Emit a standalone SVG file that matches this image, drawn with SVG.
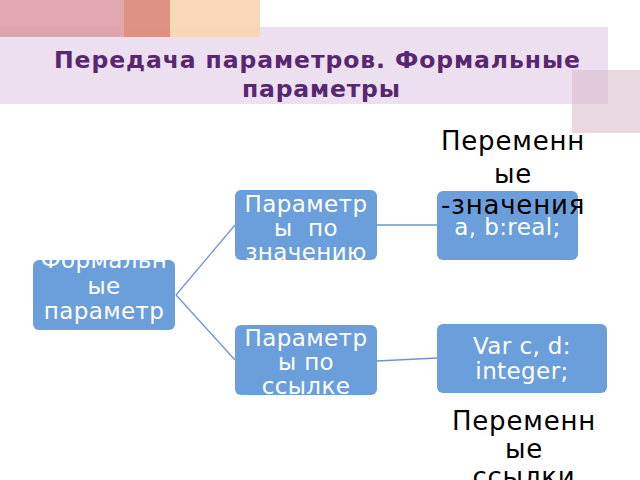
<svg xmlns="http://www.w3.org/2000/svg" width="640" height="480" viewBox="0 0 640 480">
<style>
.box{fill:#6a9fdc;}
.wt{font-family:"DejaVu Sans",sans-serif;font-size:23px;fill:#ffffff;text-anchor:middle;letter-spacing:0.4px;}
.bt{font-family:"DejaVu Sans",sans-serif;font-size:26px;fill:#000000;text-anchor:middle;letter-spacing:0.8px;}
.title{font-family:"DejaVu Sans",sans-serif;font-weight:bold;font-size:23.5px;fill:#57286f;text-anchor:middle;}
.conn{stroke:#7395c6;stroke-width:1.3;fill:none;}
</style>
<rect width="640" height="480" fill="#ffffff"/>
<g id="header">
<rect x="0" y="27" width="608" height="77" fill="#ebdff0"/>
<rect x="0" y="0" width="124" height="37" fill="#dc9ea6" opacity="0.9"/>
<rect x="124" y="0" width="46" height="37" fill="#dc8c7e" opacity="0.95"/>
<rect x="170" y="0" width="90" height="37" fill="#f8d6b4" opacity="0.95"/>
<rect x="572" y="70" width="68" height="63" fill="#d9b8c9" opacity="0.55"/>
<text class="title" x="317" y="68" textLength="526" lengthAdjust="spacing">Передача параметров. Формальные</text>
<text class="title" x="321" y="97" textLength="158" lengthAdjust="spacing">параметры</text>
</g>
<g id="connectors">
<line class="conn" x1="176" y1="295" x2="235" y2="225"/>
<line class="conn" x1="176" y1="295" x2="235" y2="360"/>
<line class="conn" x1="377" y1="225" x2="437" y2="225"/>
<line class="conn" x1="377" y1="361" x2="437" y2="358"/>
</g>
<g id="node-formal">
<rect class="box" x="33" y="260" width="142" height="70" rx="6"/>
<text class="wt" x="104" y="268">Формальн</text>
<text class="wt" x="104" y="294">ые</text>
<text class="wt" x="104" y="319">параметр</text>
</g>
<g id="node-byvalue">
<rect class="box" x="235" y="190" width="142" height="70" rx="6"/>
<text class="wt" x="306" y="212">Параметр</text>
<text class="wt" x="306" y="236" xml:space="preserve">ы  по</text>
<text class="wt" x="306" y="260">значению</text>
</g>
<g id="node-byref">
<rect class="box" x="235" y="325" width="142" height="70" rx="6"/>
<text class="wt" x="306" y="346">Параметр</text>
<text class="wt" x="306" y="370">ы по</text>
<text class="wt" x="306" y="394">ссылке</text>
</g>
<g id="node-real">
<rect class="box" x="437" y="191" width="141" height="69" rx="6"/>
<text class="wt" x="507.5" y="235">a, b:real;</text>
</g>
<g id="node-integer">
<rect class="box" x="437" y="324" width="170" height="69" rx="6"/>
<text class="wt" x="522" y="354">Var c, d:</text>
<text class="wt" x="522" y="379">integer;</text>
</g>
<g id="label-values">
<text class="bt" x="513" y="150">Переменн</text>
<text class="bt" x="513" y="183">ые</text>
<text class="bt" x="513" y="214">-значения</text>
</g>
<g id="label-refs">
<text class="bt" x="524" y="430">Переменн</text>
<text class="bt" x="524" y="458">ые</text>
<text class="bt" x="524" y="486">ссылки</text>
</g>
</svg>
